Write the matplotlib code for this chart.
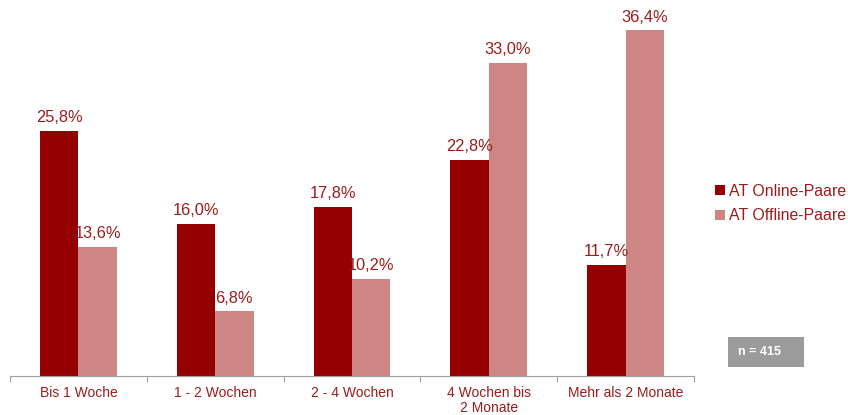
import matplotlib.pyplot as plt
from matplotlib.patches import Rectangle
import numpy as np

categories = ["Bis 1 Woche", "1 - 2 Wochen", "2 - 4 Wochen", "4 Wochen bis\n2 Monate", "Mehr als 2 Monate"]
online = [25.8, 16.0, 17.8, 22.8, 11.7]
offline = [13.6, 6.8, 10.2, 33.0, 36.4]
series_names = ["AT Online-Paare", "AT Offline-Paare"]

dark = "#950000"
light = "#cd8683"
text_color = "#9a1c1c"

plt.rcParams["font.family"] = ["Liberation Sans", "DejaVu Sans"]

fig = plt.figure(figsize=(8.48, 4.15), dpi=100, facecolor="white")
ax = fig.add_axes([10 / 848, 39 / 415, 684 / 848, 376 / 415])

x = np.arange(len(categories))
width = 0.28
bars_on = ax.bar(x - width / 2, online, width, color=dark, label=series_names[0])
bars_off = ax.bar(x + width / 2, offline, width, color=light, label=series_names[1])

for bars, values in ((bars_on, online), (bars_off, offline)):
    for bar, value in zip(bars, values):
        ax.text(bar.get_x() + bar.get_width() / 2, value + 0.6, f"{value:.1f}%".replace(".", ","),
                ha="center", va="bottom", fontsize=11.8, color=text_color)

ax.set_xlim(-0.5, len(categories) - 0.5)
ax.set_ylim(0, 39.6)
ax.set_yticks([])
ax.set_xticks(np.arange(-0.5, len(categories), 1.0), minor=False)
ax.set_xticklabels([])
ax.set_xticks(x, minor=True)
ax.set_xticklabels(categories, minor=True, fontsize=10, color=text_color, linespacing=1.1)
ax.tick_params(axis="x", which="major", length=4, color="#a0a0a0", direction="out")
ax.tick_params(axis="x", which="minor", length=0, pad=7)

for side in ("top", "right", "left"):
    ax.spines[side].set_visible(False)
ax.spines["bottom"].set_color("#a0a0a0")
ax.spines["bottom"].set_linewidth(0.8)

fig.legend(handles=[bars_on, bars_off], labels=series_names, loc="upper left",
           bbox_to_anchor=(715 / 848, 1 - 184 / 415), frameon=False, fontsize=11.4,
           handlelength=0.6, handleheight=0.6, handletextpad=0.3, labelspacing=0.6,
           labelcolor=text_color, borderaxespad=0, borderpad=0)

fig.patches.append(Rectangle((728 / 848, 1 - 367 / 415), 76 / 848, 30 / 415,
                             transform=fig.transFigure, facecolor="#9b9b9b", edgecolor="none"))
fig.text(760 / 848, 1 - 352 / 415, "n = 415", ha="center", va="center", fontsize=9,
         fontweight="bold", color="white")

fig.savefig("out.png", dpi=100, facecolor="white")
